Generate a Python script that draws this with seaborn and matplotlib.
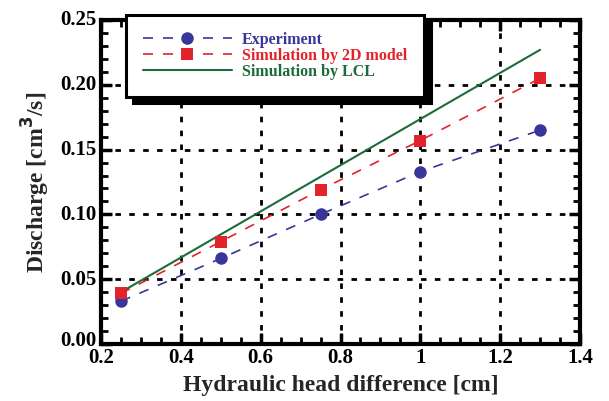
import numpy as np
import pandas as pd
import matplotlib
matplotlib.use("Agg")
import matplotlib.pyplot as plt
import matplotlib.transforms as mtransforms
import seaborn as sns
from matplotlib.ticker import MultipleLocator

head = [0.25, 0.5, 0.75, 1.0, 1.3]
experiment = [0.033, 0.066, 0.100, 0.133, 0.165]
sim_2d = [0.039, 0.079, 0.119, 0.157, 0.205]
lcl_x = [0.25, 1.3]
lcl_y = [0.040, 0.227]

sns.set_theme(style="ticks")
plt.rcParams['font.family'] = ['Liberation Serif', 'DejaVu Serif']
plt.rcParams['font.weight'] = 'bold'

blue = '#38369a'
red = '#e3232b'
green = '#1d6b3a'

fig = plt.figure(figsize=(6.09, 4.01), dpi=100)
ax = fig.add_axes([101/609, 1-344/401, (580-101)/609, (344-20)/401])

df_e = pd.DataFrame({'x': head, 'y': experiment})
df_s = pd.DataFrame({'x': head, 'y': sim_2d})
df_l = pd.DataFrame({'x': lcl_x, 'y': lcl_y})

sns.lineplot(data=df_e, x='x', y='y', ax=ax, color=blue, lw=1.2, marker='o',
             markersize=9, markeredgewidth=0, label='Experiment', zorder=4)
sns.lineplot(data=df_s, x='x', y='y', ax=ax, color=red, lw=1.2, marker='s',
             markersize=9, markeredgewidth=0, label='Simulation by 2D model', zorder=5)
sns.lineplot(data=df_l, x='x', y='y', ax=ax, color=green, lw=1.5,
             label='Simulation by LCL', zorder=3)
ax.lines[0].set_dashes([6, 6])
ax.lines[1].set_dashes([6, 6])

ax.set_xlim(0.2, 1.4)
ax.set_ylim(0, 0.25)
ax.xaxis.set_major_locator(MultipleLocator(0.2))
ax.xaxis.set_minor_locator(MultipleLocator(0.05))
ax.yaxis.set_major_locator(MultipleLocator(0.05))
ax.yaxis.set_minor_locator(MultipleLocator(0.01))
ax.set_xticks([0.2, 0.4, 0.6, 0.8, 1.0, 1.2, 1.4])
ax.set_xticklabels(['0.2', '0.4', '0.6', '0.8', '1', '1.2', '1.4'])
ax.set_yticklabels([f'{v:.2f}' for v in ax.get_yticks()])

ax.grid(True, which='major', color='black', linestyle=(0, (2, 3)), lw=2)
ax.tick_params(which='both', direction='in', top=True, right=True, colors='black',
               labelsize=15)
ax.tick_params(which='major', length=8, width=2.5)
ax.tick_params(which='minor', length=5, width=2)
ax.tick_params(axis='x', which='major', pad=3)
for s in ax.spines.values():
    s.set_linewidth(3)
    s.set_color('black')

# lift the y tick labels slightly as in the reference
for lab in ax.get_yticklabels():
    if lab.get_text() == '0.00':
        dy = 5
    else:
        dy = 2
    lab.set_transform(lab.get_transform() +
                      mtransforms.ScaledTranslation(0, dy/100, fig.dpi_scale_trans))

ax.set_xlabel('Hydraulic head difference [cm]', fontsize=17, fontweight='bold', labelpad=5)
ax.set_ylabel('Discharge [cm$^3$/s]', fontsize=17, fontweight='bold', labelpad=6)

leg = ax.legend(loc='upper left', bbox_to_anchor=(126/609, 1-15/401),
                bbox_transform=fig.transFigure, frameon=True,
                fancybox=False, shadow={'color': 'black', 'alpha': 1, 'ox': 5, 'oy': -5},
                handlelength=5.6, handletextpad=0.6, borderpad=1.05, labelspacing=0.0,
                borderaxespad=0, prop={'weight': 'bold', 'size': 11.5})
leg.get_frame().set_edgecolor('black')
leg.get_frame().set_linewidth(2.2)
leg.get_frame().set_alpha(1)
leg.set_zorder(10)
for t, c in zip(leg.get_texts(), [blue, red, green]):
    t.set_color(c)

fig.savefig('out.png', dpi=100)
